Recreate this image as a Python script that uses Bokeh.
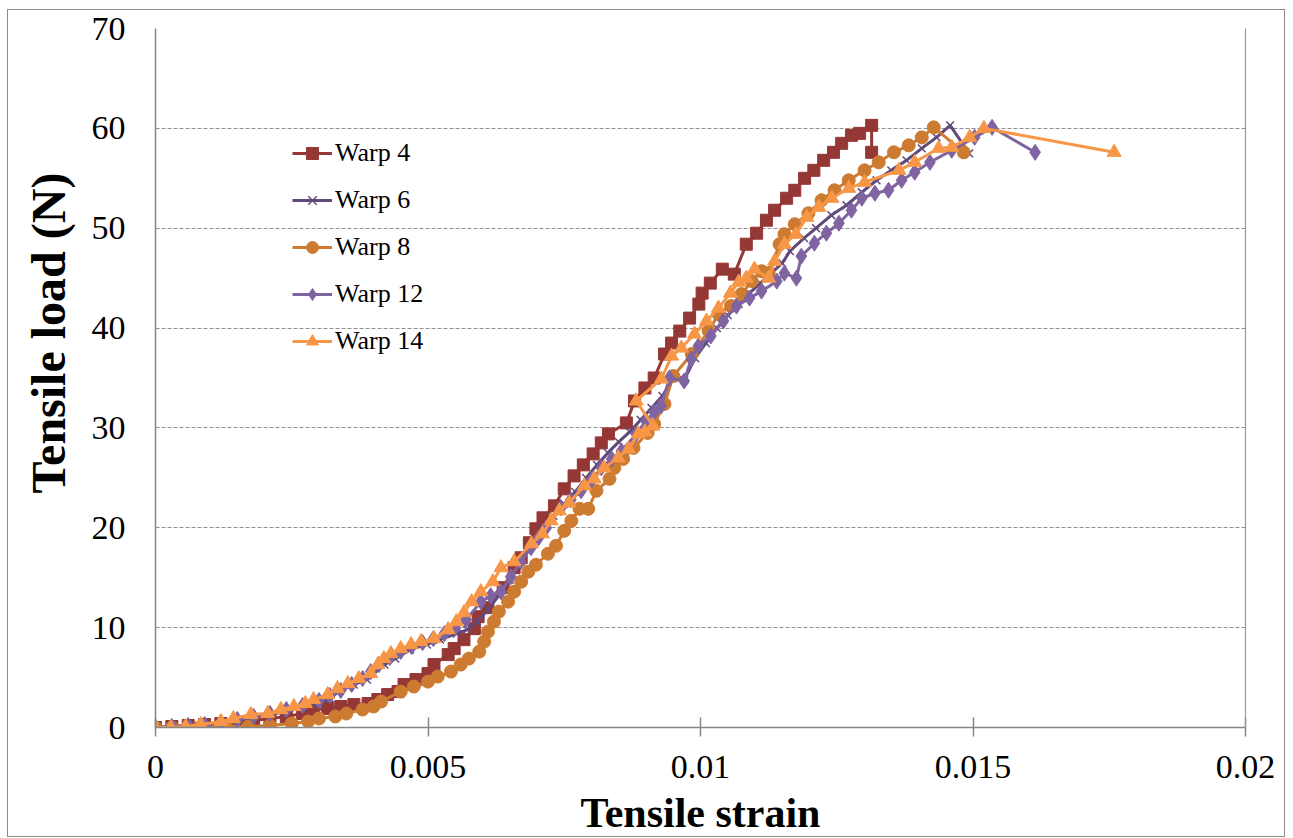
from bokeh.plotting import figure
from bokeh.models import FixedTicker, Legend, LegendItem, LinearAxis, Title
from bokeh.embed import file_html
from bokeh.resources import INLINE

# ---- data (strain, load in N) ----
warp4_x = [0.0, 0.0003, 0.0006, 0.0009, 0.0012, 0.0015, 0.0018, 0.0021, 0.0024, 0.0027, 0.0029, 0.00316,
           0.0034, 0.00364, 0.0039, 0.00408, 0.00426, 0.00445, 0.00456, 0.00478, 0.0050, 0.00511, 0.00537,
           0.00548, 0.00566, 0.00585, 0.00592, 0.0061, 0.00638, 0.00658, 0.00671, 0.00686, 0.00698, 0.00711,
           0.00732, 0.0075, 0.00768, 0.00785, 0.00803, 0.00818, 0.00831, 0.00864, 0.00879, 0.00898, 0.00915,
           0.00934, 0.00947, 0.00962, 0.0098, 0.00997, 0.01003, 0.01018, 0.0104, 0.01062, 0.01084, 0.01103,
           0.01121, 0.01136, 0.01158, 0.01173, 0.01191, 0.01208, 0.01226, 0.01244, 0.01259, 0.01277, 0.01292,
           0.01314, 0.01314]
warp4_y = [0.0, 0.1, 0.2, 0.3, 0.4, 0.5, 0.7, 0.9, 1.1, 1.4, 1.8, 1.9, 2.1, 2.3, 2.4, 2.8, 3.3, 3.6, 4.3, 4.8,
           5.4, 6.3, 7.3, 7.9, 8.8, 9.9, 11.1, 12.0, 14.0, 16.0, 17.0, 18.5, 19.9, 21.0, 22.2, 23.9, 25.2, 26.3,
           27.4, 28.5, 29.4, 30.5, 32.7, 34.0, 35.0, 37.4, 38.5, 39.7, 41.0, 42.4, 43.5, 44.5, 45.9, 45.4, 48.4,
           49.5, 50.8, 51.8, 53.0, 53.8, 55.0, 55.8, 56.8, 57.6, 58.5, 59.3, 59.5, 60.3, 57.6]

warp6_x = [0.0, 0.0003, 0.0006, 0.0009, 0.0012, 0.0015, 0.0018, 0.0021, 0.0024, 0.0027, 0.003, 0.0032, 0.00336,
           0.00364, 0.00388, 0.0042, 0.0044, 0.00467, 0.00498, 0.00522, 0.00553, 0.00572, 0.0059, 0.0061, 0.0063,
           0.0065, 0.0067, 0.0069, 0.0071, 0.0073, 0.0075, 0.0077, 0.0079, 0.0081, 0.0083, 0.0085, 0.0087, 0.0089,
           0.0091, 0.0093, 0.0095, 0.0097, 0.0099, 0.0101, 0.0103, 0.0105, 0.0107, 0.0109, 0.0111, 0.0113, 0.0115,
           0.01164, 0.0119, 0.01212, 0.0124, 0.01268, 0.01296, 0.01323, 0.0135, 0.01378, 0.01406, 0.01433,
           0.01458, 0.01493]
warp6_y = [0.0, 0.0, 0.1, 0.2, 0.4, 0.7, 1.0, 1.3, 1.6, 2.0, 2.4, 2.9, 3.6, 4.3, 4.8, 6.3, 6.9, 7.8, 8.3, 8.8,
           9.4, 9.8, 10.6, 11.8, 13.2, 14.8, 16.6, 18.3, 20.0, 21.2, 22.4, 23.6, 25.0, 26.3, 27.5, 28.6, 29.6,
           30.8, 32.0, 33.2, 35.0, 34.8, 37.0, 38.5, 40.0, 41.3, 42.4, 43.5, 44.5, 45.5, 46.5, 47.7, 49.0, 50.0,
           51.3, 52.3, 53.6, 54.8, 55.8, 56.8, 58.0, 59.1, 60.3, 57.5]

warp8_x = [0.0, 0.0003, 0.0008, 0.0013, 0.0017, 0.0021, 0.0025, 0.0028, 0.0030, 0.0033, 0.0035, 0.0038, 0.0040,
           0.00414, 0.0045, 0.00474, 0.0050, 0.00518, 0.00542, 0.0056, 0.00575, 0.00594, 0.00603, 0.0061,
           0.00621, 0.0063, 0.00647, 0.00658, 0.00671, 0.00684, 0.00698, 0.0072, 0.00735, 0.0075, 0.00763,
           0.00778, 0.00794, 0.00809, 0.00833, 0.00842, 0.00858, 0.00877, 0.00903, 0.00915, 0.00934, 0.0095,
           0.00984, 0.01015, 0.01033, 0.01056, 0.01075, 0.01094, 0.01112, 0.01125, 0.01145, 0.01154, 0.01173,
           0.01198, 0.01222, 0.01246, 0.01272, 0.01301, 0.01327, 0.01355, 0.01382, 0.01406, 0.01428, 0.01483]
warp8_y = [0.0, 0.0, 0.0, 0.1, 0.1, 0.2, 0.4, 0.6, 0.9, 1.1, 1.4, 1.8, 2.1, 2.6, 3.6, 4.1, 4.6, 5.1, 5.6, 6.3,
           6.9, 7.6, 8.6, 9.6, 10.6, 11.6, 12.6, 13.6, 14.6, 15.6, 16.3, 17.4, 18.2, 19.7, 20.7, 21.9, 21.9,
           23.7, 24.9, 26.0, 26.9, 28.0, 29.5, 30.4, 32.4, 35.2, 37.4, 39.7, 41.4, 42.2, 43.4, 44.7, 45.7, 45.5,
           48.4, 49.4, 50.4, 51.5, 52.8, 53.8, 54.8, 55.8, 56.6, 57.6, 58.3, 59.1, 60.1, 57.6]

warp12_x = [0.0, 0.0003, 0.0006, 0.0009, 0.0012, 0.0015, 0.0018, 0.0021, 0.0024, 0.0027, 0.003, 0.0032, 0.0034,
            0.0036, 0.0038, 0.00395, 0.0041, 0.0043, 0.0045, 0.0047, 0.0049, 0.0051, 0.0053, 0.0055, 0.0057,
            0.00597, 0.00615, 0.00634, 0.00652, 0.0067, 0.00689, 0.00703, 0.00717, 0.00744, 0.00762, 0.00781,
            0.008, 0.00818, 0.00837, 0.00855, 0.00882, 0.009, 0.00915, 0.00928, 0.00943, 0.0097, 0.00983,
            0.00996, 0.01019, 0.01042, 0.01066, 0.0109, 0.01112, 0.0114, 0.01154, 0.01176, 0.01185, 0.01209,
            0.01231, 0.01254, 0.01277, 0.01296, 0.0132, 0.01345, 0.01369, 0.01393, 0.01421, 0.01461, 0.01503,
            0.01535, 0.01614]
warp12_y = [0.0, 0.1, 0.2, 0.3, 0.5, 0.8, 1.1, 1.4, 1.8, 2.2, 2.7, 3.2, 3.7, 4.3, 4.9, 5.6, 6.3, 7.0, 7.6, 8.1,
            8.5, 8.9, 9.4, 10.0, 10.8, 12.6, 13.2, 13.6, 15.1, 16.6, 18.0, 19.0, 20.0, 22.0, 22.8, 23.7, 24.8,
            26.0, 26.9, 27.7, 29.4, 30.7, 31.6, 32.2, 35.0, 34.7, 36.9, 38.2, 39.2, 40.7, 42.2, 43.0, 43.7, 44.7,
            45.5, 45.0, 47.2, 48.5, 49.5, 50.5, 51.8, 53.0, 53.5, 53.8, 54.8, 55.6, 56.6, 57.8, 59.1, 60.1, 57.6]

warp14_x = [0.0, 0.00028, 0.00055, 0.00083, 0.0012, 0.00143, 0.00175, 0.00206, 0.0023, 0.00254, 0.00275, 0.0029,
            0.00316, 0.00334, 0.00353, 0.00373, 0.00395, 0.00408, 0.00419, 0.00432, 0.0045, 0.00469, 0.00487,
            0.00511, 0.00537, 0.00552, 0.00566, 0.0058, 0.00597, 0.00619, 0.00634, 0.00658, 0.0069, 0.0071,
            0.00726, 0.00741, 0.00759, 0.00787, 0.00805, 0.00823, 0.00849, 0.00868, 0.00886, 0.00898, 0.00913,
            0.00882, 0.00928, 0.00947, 0.00965, 0.00989, 0.01011, 0.01033, 0.01055, 0.0107, 0.01084, 0.01099,
            0.01125, 0.01136, 0.01154, 0.01175, 0.01195, 0.01217, 0.01241, 0.01272, 0.01301, 0.01364, 0.01393,
            0.01437, 0.01461, 0.01494, 0.0152, 0.01759]
warp14_y = [0.0, 0.0, 0.1, 0.3, 0.6, 0.9, 1.3, 1.4, 1.8, 2.1, 2.4, 2.8, 3.3, 3.9, 4.4, 4.9, 5.4, 6.3, 6.9, 7.4,
            7.9, 8.3, 8.6, 8.9, 9.8, 10.6, 11.5, 12.6, 13.6, 14.6, 16.0, 16.6, 18.4, 19.4, 20.7, 21.7, 22.5, 24.2,
            24.9, 26.0, 27.0, 27.9, 29.4, 29.6, 30.2, 32.7, 34.9, 37.2, 38.0, 39.4, 40.7, 42.0, 43.5, 44.6, 45.0,
            45.9, 45.0, 46.7, 48.4, 49.4, 51.1, 52.1, 53.0, 54.0, 54.6, 55.8, 56.6, 58.0, 58.1, 59.1, 60.0, 57.6]

series_names = ["Warp 4", "Warp 6", "Warp 8", "Warp 12", "Warp 14"]
x_ticks = [0, 0.005, 0.01, 0.015, 0.02]
x_tick_labels = ["0", "0.005", "0.01", "0.015", "0.02"]
y_ticks = [0, 10, 20, 30, 40, 50, 60, 70]
x_title = "Tensile strain"
y_title = "Tensile load (N)"

SERIF = "Liberation Serif"

p = figure(width=1278, height=828, output_backend="svg", toolbar_location=None,
           x_range=(0, 0.02), y_range=(0, 70),
           min_border_left=147, min_border_right=41, min_border_top=18, min_border_bottom=110)
p.styles = {"border": "1px solid #8c8c8c", "margin-left": "7px", "margin-top": "9px"}
p.outline_line_color = None
p.background_fill_color = "white"
p.border_fill_color = "white"

# grid
p.xgrid.grid_line_color = None
p.ygrid.grid_line_color = "#8f8f8f"
p.ygrid.grid_line_dash = "4 2"
p.ygrid.grid_line_width = 1

# right edge of the plot area (blue line)
right_axis = LinearAxis(ticker=FixedTicker(ticks=[]), axis_line_color="#7f9fcb", axis_line_width=1.2,
                        major_tick_line_color=None, minor_tick_line_color=None)
p.add_layout(right_axis, "right")

# axes
p.xaxis[0].ticker = FixedTicker(ticks=x_ticks)
p.xaxis[0].major_label_overrides = {t: l for t, l in zip(x_ticks, x_tick_labels)}
p.yaxis[0].ticker = FixedTicker(ticks=y_ticks)
for ax in (p.xaxis[0], p.yaxis[0]):
    ax.axis_line_color = "#868686"
    ax.axis_line_width = 1.5
    ax.major_tick_line_color = "#868686"
    ax.major_tick_line_width = 1.5
    ax.minor_tick_line_color = None
    ax.major_label_text_font = SERIF
    ax.major_label_text_font_size = "34px"
    ax.major_label_text_color = "black"
p.xaxis[0].major_tick_in = 10
p.xaxis[0].major_tick_out = 9
p.xaxis[0].major_label_standoff = 19
p.xaxis[0].axis_label = x_title
p.xaxis[0].axis_label_text_font = SERIF
p.xaxis[0].axis_label_text_font_style = "bold"
p.xaxis[0].axis_label_text_color = "black"
p.xaxis[0].axis_label_text_font_size = "42px"
p.xaxis[0].axis_label_standoff = 9
p.yaxis[0].major_tick_in = 0
p.yaxis[0].major_tick_out = 0
p.yaxis[0].major_label_standoff = 30

# y-axis title, shifted up as in the original
p.add_layout(Title(text=y_title, align="left", offset=234, vertical_align="middle", standoff=25,
                   text_font=SERIF, text_font_style="bold", text_font_size="48px", text_color="black"),
             "left")

colors = ["#953735", "#604a7b", "#cc7b31", "#8064a2", "#f79646"]
markers = ["square", "x", "circle", "diamond", "triangle"]
sizes = [12, 11, 13, 16, 14]
xs = [warp4_x, warp6_x, warp8_x, warp12_x, warp14_x]
ys = [warp4_y, warp6_y, warp8_y, warp12_y, warp14_y]

items = []
for name, c, m, s, x, y in zip(series_names, colors, markers, sizes, xs, ys):
    ln = p.line(x, y, line_color=c, line_width=3)
    if m == "x":
        sc = p.scatter(x, y, marker=m, size=s, line_color=c, line_width=1.5)
    else:
        sc = p.scatter(x, y, marker=m, size=s, fill_color=c, line_color=c, line_width=1)
    items.append(LegendItem(label=name, renderers=[ln, sc]))

legend = Legend(items=items, location=(137, 371), border_line_color=None, background_fill_alpha=0,
                label_text_font=SERIF, label_text_font_size="26px", label_text_color="black",
                glyph_width=40, glyph_height=30, label_height=30, spacing=17, padding=0, margin=0,
                label_standoff=3)
p.add_layout(legend)

open("out.html", "w").write(file_html(p, INLINE))
